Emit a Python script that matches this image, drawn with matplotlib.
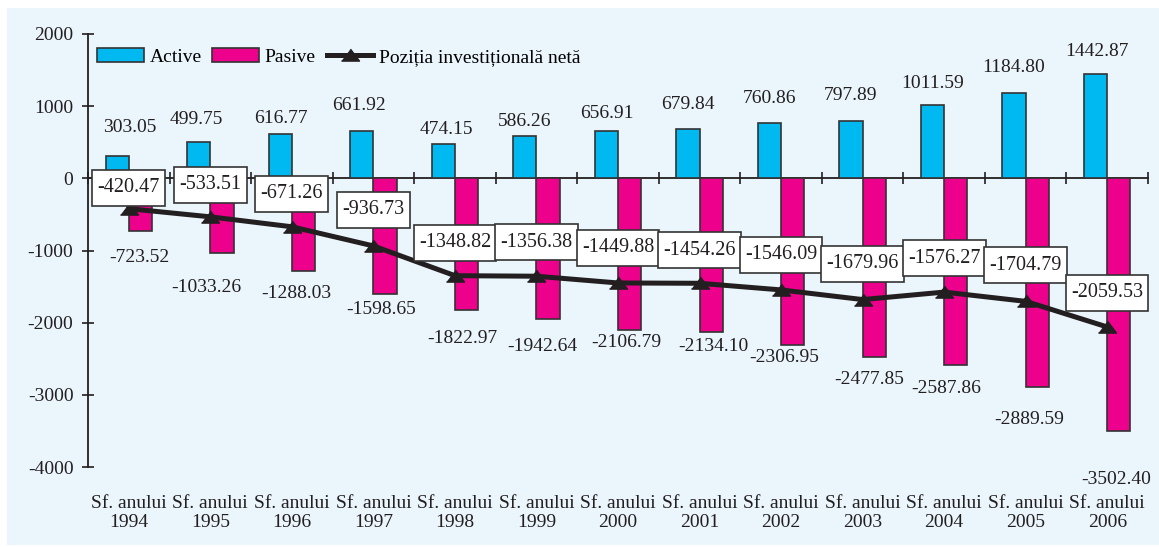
import numpy as np
import matplotlib
matplotlib.use('Agg')
import matplotlib.pyplot as plt
from matplotlib.patches import Rectangle
from matplotlib.path import Path

plt.rcParams['font.family'] = 'Liberation Serif'
plt.rcParams['axes.unicode_minus'] = False

years = ['1994', '1995', '1996', '1997', '1998', '1999', '2000',
         '2001', '2002', '2003', '2004', '2005', '2006']
active = [303.05, 499.75, 616.77, 661.92, 474.15, 586.26, 656.91,
          679.84, 760.86, 797.89, 1011.59, 1184.80, 1442.87]
pasive = [-723.52, -1033.26, -1288.03, -1598.65, -1822.97, -1942.64, -2106.79,
          -2134.10, -2306.95, -2477.85, -2587.86, -2889.59, -3502.40]
net = [-420.47, -533.51, -671.26, -936.73, -1348.82, -1356.38, -1449.88,
       -1454.26, -1546.09, -1679.96, -1576.27, -1704.79, -2059.53]

# label offsets in pixels (hand placed like the original)
act_off = [29, 23, 15, 25, 15, 15, 17, 25, 25, 25, 22, 25, 23]
act_dx = [13, -2, 1, -3, 3, 0, 0, 0, 0, 0, 0, 0, 1]
pas_off = [27, 35, 22, 16, 29, 28, 12, 14, 13, 22, 23, 33, 48]
pas_dx = [-1, -16, -7, -4, -4, -6, -3, 2, -9, -5, -10, -8, -3]
net_off = [21, 32, 33, 36, 33, 34, 35, 33, 35, 36, 34, 36, 34]

cyan = '#00b9f0'
magenta = '#ec008c'
dark = '#231f20'
edge = '#333333'


def tall_box(x0, y0, width, height, mutation_size):
    # narrow side padding, taller top/bottom padding
    px = 0.26 * mutation_size
    py = 0.42 * mutation_size
    x0, y0 = x0 - px, y0 - py
    x1, y1 = x0 + width + 2 * px, y0 + height + 2 * py
    return Path([(x0, y0), (x1, y0), (x1, y1), (x0, y1), (x0, y0)], closed=True)


W, H = 1159, 547
fig = plt.figure(figsize=(W / 100, H / 100), dpi=100)
fig.patch.set_facecolor('white')
fig.patches.append(Rectangle((7 / W, 2 / H), 1, (H - 10) / H, transform=fig.transFigure,
                             facecolor='#eaf5fc', edgecolor='none', zorder=-1))

ax = fig.add_axes([88 / W, 1 - 467 / H, 1060 / W, 433 / H])
ax.patch.set_visible(False)

x = np.arange(len(years))
w = 0.285
b1 = ax.bar(x - w, active, w, align='edge', color=cyan, edgecolor=edge, linewidth=1.2,
            label='Active', zorder=2)
b2 = ax.bar(x, pasive, w, align='edge', color=magenta, edgecolor=edge, linewidth=1.2,
            label='Pasive', zorder=2)
tri = [(-1, -0.62), (1, -0.62), (0, 0.7)]
ln, = ax.plot(x, net, color=dark, lw=3.6, marker=tri, ms=13, mfc=dark, mec=dark,
              label='Poziția investițională netă', zorder=3)

for i in range(len(years)):
    ax.annotate(f'{active[i]:.2f}', (x[i] - w / 2, active[i]), xytext=(act_dx[i], act_off[i]),
                textcoords='offset pixels', ha='center', va='center', fontsize=14,
                color=dark, zorder=4)
    ax.annotate(f'{pasive[i]:.2f}', (x[i] + w / 2, pasive[i]), xytext=(pas_dx[i], -pas_off[i]),
                textcoords='offset pixels', ha='center', va='center', fontsize=14,
                color=dark, zorder=4)
    ax.annotate(f'{net[i]:.2f}', (x[i], net[i]), xytext=(0, net_off[i]),
                textcoords='offset pixels', ha='center', va='center', fontsize=14.5,
                color=dark, zorder=5,
                bbox=dict(boxstyle=tall_box, fc='white', ec=edge, lw=1.2))

ax.set_xlim(-0.5, len(years) - 0.5)
ax.set_ylim(-4000, 2000)
ax.set_yticks(range(-4000, 2001, 1000))
ax.tick_params(axis='y', direction='inout', length=9, width=1.2, labelsize=14,
               colors=dark, pad=6)
ax.set_xticks(x, labels=[f'Sf. anului\n{y}' for y in years])
ax.tick_params(axis='x', length=0, pad=20, labelsize=14, colors=dark)
for lab in ax.get_xticklabels():
    lab.set_linespacing(1.15)
for s in ['top', 'right', 'bottom']:
    ax.spines[s].set_visible(False)
ax.spines['left'].set_color(dark)
ax.spines['left'].set_linewidth(1.3)

# category axis drawn at zero with ticks between the groups
sec = ax.secondary_xaxis(0, transform=ax.transData)
sec.set_xticks(np.arange(-0.5, len(years), 1))
sec.tick_params(direction='inout', length=9, width=1.2, labelbottom=False, colors=dark)
sec.spines['bottom'].set_color(dark)
sec.spines['bottom'].set_linewidth(1.3)

ax.legend(handles=[b1, b2, ln], loc='center left', bbox_to_anchor=(97 / W, 1 - 57 / H),
          bbox_transform=fig.transFigure, ncol=3, frameon=False, fontsize=14,
          handlelength=2.4, handleheight=0.72, handletextpad=0.3, columnspacing=0.55,
          borderpad=0, borderaxespad=0)

fig.savefig('out.png', dpi=100)
